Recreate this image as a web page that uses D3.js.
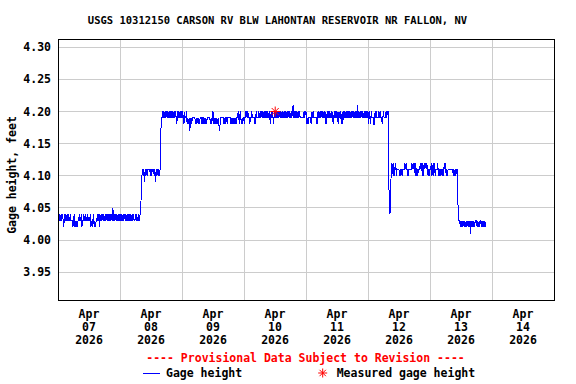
<!DOCTYPE html>
<html>
<head>
<meta charset="utf-8">
<script src="https://cdn.jsdelivr.net/npm/d3@7"></script>
<style>
  body { margin: 0; background: #fff; }
  text { font-family: "DejaVu Sans Mono", monospace; font-weight: bold; }
</style>
</head>
<body>
<div id="chart"></div>
<script>
// Gage height, 15-minute readings, in hundredths of a foot above 4.00 ft
const apr07 = [3,4,3,4,3,4,3,4,3, 2, 4,3,4,3,4,3,4,3, 3,4,3,3, 3,2,3,4,2,3,2,3,2,3, 3,4,3,3,4, 2,
  3,3,4,3,3,4,3,3,4,3,3,3,4, 2,3,2,3,4,2,3,2,3, 3,4,3,4, 2,
  4,3,4,3,4,3,4,3,4,3,4,3,4,3,4,3,4,3,4,3, 5, 3,4,3,4,3,4,3,4,3,4];
const apr08 = [3,4,3,4,3,4,3,4,3,4,3,4,3,4,3,4,3,4,3,4, 3,4,3,3,4,3,4,3,3,4,3,4, 4, 8, 10,
  11,10,11,9,11,10,11,10,11, 11,11,11, 10,11,10, 11,11,11, 10,11,9,11,10,11,10,11,10, 11,
  17, 18, 19,
  20,19,20,19,20,19,20,19,20,19,20,19,20,19,20,19,20,19,20,19,20,19, 18, 20,19,20,19,20,19,20];
const apr09 = [19,20,19,18,20,19, 19, 20, 18,19,18,19, 17, 18,19,18,19, 19,19,19,19,
  18,19,18,19,18,19,18, 19,19,19, 18,19, 19, 18,19,18,19,18,19, 19,19,19,19, 18,19,18,19, 20,
  18,19,18,19,18,19,18, 19, 18, 17, 18,19, 19,19,19,19, 18,19,18,19, 19, 18,
  19,19,19,19,19, 18,19,18,19,18,19,18,19,18, 19,19, 20,19,18,20,19, 18,19,18,19];
const apr10 = [19,18,20,19,20,19,20, 19,19, 18, 19,19,20,19,19,19,19, 18, 19, 20, 19,19,19,
  20,19,20,19,20,19,20,19,20,19,20,19,20,19,20,19,20,19, 18, 20,19,20,19, 18,
  20,19,20,19,20,19,20,19,20,19,20,19,20, 19,19,20,19,19,
  20,19,20,19,20,19,20,19,20,19,20, 21, 19,20,19,20,19,20,19,20,19,20,19, 19,19,19,19,19, 20,19,20];
const apr11 = [20,18,19,18, 19,19,19,19, 18, 20,19,20, 19,19,19,19,19, 18,
  20,19,20,19,20,19,20,19,20,19,20,19,20, 18, 19,20,19,20,19,20,19,20,19,20, 18,
  19,20,19,20,19,20,19, 18, 20,19,20,19, 18, 20, 18,
  20,19,20,19,20,19,20,19,20,19,20,19,20,19,20,19,20,19,20,19,20,19, 21,
  19,20,19,20,19,20,19,20,19,20,19,20,19,20,19];
const apr12 = [20, 18, 20,19, 18, 20, 19,19,19,18, 18, 20,19,20,19, 19,19, 20,19,20,19, 19, 18, 19,
  20,19, 19,19, 20,19,20, 20, 11, 5, 4, 7, 11,
  12,11,10,12,10,11,12,10,11, 11,11,11, 10,11,10,11,10,11, 11,11, 12,11,12,11, 11, 10,
  11,11,11,11,11, 12,11,12,11,12, 10,12,10,11,10,11, 11,11, 12,11,12, 10,12,10,12,
  11,12,11,12,11, 10,11,10];
const apr13 = [11,11, 12,10,11,12,10,12,10, 11,11,11, 12,10,11, 10,11,10,11,10,11,10,
  12,11,12,10, 11, 10, 11,11,11,11,11,11,11,11, 10,11,10,11,10,11,11, 7, 3, 3,3,
  2,3,2,3,2,3,2,3,2,3,2,3,2,3,2,3, 1, 3,2,3,2,3,2,3, 3,3, 2,3,2,3,2, 3,3, 2,3,2,3,2,3,2];
const gageDays = [apr07, apr08, apr09, apr10, apr11, apr12, apr13];

// Field measurement
const measuredTime = new Date(2026, 3, 10, 12, 5);
const measuredValue = 4.20;

const yTicks = [3.95, 4.00, 4.05, 4.10, 4.15, 4.20, 4.25, 4.30];
const dayTicks = [7, 8, 9, 10, 11, 12, 13, 14];

// Serie: una lectura cada 15 minutos desde el 7 de abril
const start = new Date(2026, 3, 7);
const data = gageDays.flat().map((v, i) => ({
  t: new Date(start.getTime() + i * 15 * 60000),
  v: 4 + v / 100
}));

const W = 576, H = 384;
const plot = { left: 58, right: 554, top: 39.3, bottom: 300 };

const svg = d3.select("#chart").append("svg")
  .attr("width", W).attr("height", H);

const x = d3.scaleTime()
  .domain([new Date(2026, 3, 7), new Date(2026, 3, 15)])
  .range([plot.left, plot.right]);

const y = d3.scaleLinear()
  .domain([3.9068, 4.3124])
  .range([plot.bottom, plot.top]);

// Rejilla
const grid = svg.append("g").attr("stroke", "#cccccc").attr("stroke-width", 1)
  .attr("shape-rendering", "crispEdges");
grid.selectAll("line.h").data(yTicks).join("line")
  .attr("x1", plot.left).attr("x2", plot.right)
  .attr("y1", d => Math.floor(y(d)) + 0.5).attr("y2", d => Math.floor(y(d)) + 0.5);
grid.selectAll("line.v").data(dayTicks.slice(1)).join("line")
  .attr("x1", d => Math.floor(x(new Date(2026, 3, d))) + 0.5)
  .attr("x2", d => Math.floor(x(new Date(2026, 3, d))) + 0.5)
  .attr("y1", plot.top).attr("y2", plot.bottom);

// Linea de datos
svg.append("path")
  .datum(data)
  .attr("fill", "none")
  .attr("stroke", "#0000ff")
  .attr("stroke-width", 1)
  .attr("shape-rendering", "crispEdges")
  .attr("d", d3.line().x(d => x(d.t)).y(d => y(d.v)));

// Asterisco rojo
function asterisk(cx, cy, r) {
  const p = d3.path();
  [0, 45, 90, 135].forEach(a => {
    const rad = a * Math.PI / 180;
    p.moveTo(cx - r * Math.cos(rad), cy - r * Math.sin(rad));
    p.lineTo(cx + r * Math.cos(rad), cy + r * Math.sin(rad));
  });
  return p.toString();
}
svg.append("path")
  .attr("d", asterisk(x(measuredTime), y(measuredValue), 5))
  .attr("stroke", "#ff0000").attr("stroke-width", 1).attr("fill", "none");

// Marco
svg.append("rect")
  .attr("x", plot.left + 0.5).attr("y", 39.5)
  .attr("width", plot.right - plot.left - 0.5).attr("height", plot.bottom - 39.5)
  .attr("fill", "none").attr("stroke", "#000").attr("stroke-width", 1)
  .attr("shape-rendering", "crispEdges");

// Etiquetas eje Y
svg.append("g").selectAll("text").data(yTicks).join("text")
  .attr("x", 51).attr("y", d => y(d))
  .attr("text-anchor", "end").attr("dominant-baseline", "central")
  .style("font-size", "11.5px")
  .text(d => d.toFixed(2));

// Etiquetas eje X
const xl = svg.append("g").selectAll("text").data(dayTicks).join("text")
  .attr("text-anchor", "middle")
  .style("font-size", "11.5px")
  .attr("transform", d => `translate(${x(new Date(2026, 3, d, 12))},0)`);
xl.append("tspan").attr("x", 0).attr("y", 318).text("Apr");
xl.append("tspan").attr("x", 0).attr("y", 331).text(d => String(d).padStart(2, "0"));
xl.append("tspan").attr("x", 0).attr("y", 344).text("2026");

// Titulo
svg.append("text")
  .attr("x", 277.5).attr("y", 24)
  .attr("text-anchor", "middle")
  .style("font-size", "10.5px")
  .text("USGS 10312150 CARSON RV BLW LAHONTAN RESERVOIR NR FALLON, NV");

// Titulo eje Y
svg.append("text")
  .attr("transform", "translate(16,175) rotate(-90)")
  .attr("text-anchor", "middle")
  .style("font-size", "11.5px")
  .text("Gage height, feet");

// Aviso provisional
svg.append("text")
  .attr("x", 305.5).attr("y", 362)
  .attr("text-anchor", "middle")
  .attr("fill", "#ff0000")
  .style("font-size", "11.5px")
  .text("---- Provisional Data Subject to Revision ----");

// Leyenda
svg.append("line")
  .attr("x1", 143).attr("x2", 160).attr("y1", 373.5).attr("y2", 373.5)
  .attr("stroke", "#0000ff").attr("stroke-width", 1);
svg.append("text").attr("x", 166).attr("y", 377)
  .style("font-size", "11.5px").text("Gage height");
svg.append("path")
  .attr("d", asterisk(322.7, 373, 4.5))
  .attr("stroke", "#ff0000").attr("stroke-width", 1).attr("fill", "none");
svg.append("text").attr("x", 336.7).attr("y", 377)
  .style("font-size", "11.5px").text("Measured gage height");
</script>
</body>
</html>
